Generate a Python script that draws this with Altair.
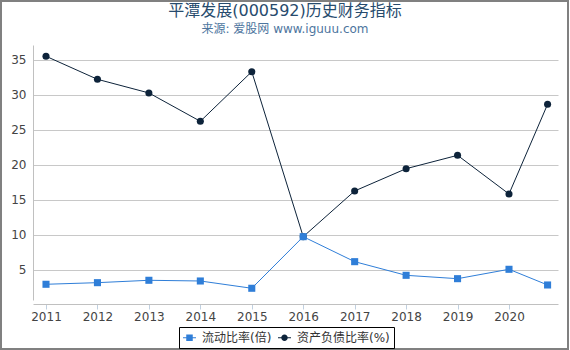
import altair as alt
import pandas as pd

# ---- data ----
periods = [2011, 2012, 2013, 2014, 2015, 2016, 2017, 2018, 2019, 2020, 2020.75]
tick_years = [2011, 2012, 2013, 2014, 2015, 2016, 2017, 2018, 2019, 2020]
current_ratio = [2.96, 3.19, 3.53, 3.43, 2.39, 9.76, 6.19, 4.24, 3.76, 5.10, 2.86]
debt_ratio = [35.53, 32.24, 30.29, 26.24, 33.33, 9.76, 16.29, 19.47, 21.38, 15.86, 28.67]
y_ticks = [5, 10, 15, 20, 25, 30, 35]

series_names = ["流动比率(倍)", "资产负债比率(%)"]
series_colors = ["#2f7ed8", "#0d233a"]
series_markers = ["square", "circle"]
legend_paths = [
    "M-1,-0.08H1V0.08H-1Z M-0.5,-0.5H0.5V0.5H-0.5Z",
    "M-1,-0.08H1V0.08H-1Z M0.5,0A0.5,0.5 0 1,1 -0.5,0A0.5,0.5 0 1,1 0.5,0Z",
]

rows = []
for name, vals in zip(series_names, [current_ratio, debt_ratio]):
    for p, v in zip(periods, vals):
        rows.append({"period": p, "value": v, "series": name})
df = pd.DataFrame(rows)

FONT = "DejaVu Sans, Noto Sans CJK SC, sans-serif"

x_enc = alt.X(
    "period:Q",
    scale=alt.Scale(domain=[2010.7473, 2020.9525], nice=False, zero=False),
    axis=alt.Axis(
        values=tick_years, format="d", title=None, grid=False, offset=4,
        labelFontSize=12, labelColor="#444444", labelFont=FONT,
        tickColor="#C0D0E0", tickSize=5, labelPadding=2,
        domainColor="#C0C0C0", labelFlush=False,
    ),
)
y_enc = alt.Y(
    "value:Q",
    scale=alt.Scale(domain=[0.714, 37.14], nice=False, zero=False),
    axis=alt.Axis(
        values=y_ticks, title=None, grid=True, gridColor="#C8C8C8",
        ticks=False, labelPadding=7, labelFontSize=12, labelColor="#444444",
        labelFont=FONT, domainColor="#C0C0C0",
    ),
)

base = alt.Chart(df)
layers = []
# draw navy series first, blue on top
for name, color, marker in reversed(list(zip(series_names, series_colors, series_markers))):
    sub = base.transform_filter(alt.datum.series == name)
    layers.append(sub.mark_line(color=color, strokeWidth=1).encode(x=x_enc, y=y_enc))
    layers.append(
        sub.mark_point(filled=True, shape=marker, size=50, color=color, opacity=1)
        .encode(x=x_enc, y=y_enc)
    )

legend_layer = base.transform_filter("false").mark_point(filled=True, opacity=1).encode(
    x=x_enc,
    y=y_enc,
    color=alt.Color(
        "series:N",
        scale=alt.Scale(domain=series_names, range=series_colors),
        legend=alt.Legend(
            title=None, orient="none", legendX=146, legendY=282,
            direction="horizontal", columns=2,
            strokeColor="#000000", padding=4,
            labelFont=FONT, labelFontSize=12, labelColor="#333333",
            symbolSize=169, symbolStrokeWidth=0, symbolOpacity=1,
            labelOffset=6, columnPadding=6,
        ),
    ),
    shape=alt.Shape(
        "series:N",
        scale=alt.Scale(domain=series_names, range=legend_paths),
    ),
)

frame = alt.Chart(pd.DataFrame({"k": [0]})).mark_rect(
    fill="transparent", stroke="#808080", strokeWidth=2
).encode(
    x=alt.value(-32), x2=alt.value(535), y=alt.value(-44), y2=alt.value(304)
)

chart = alt.layer(*layers, legend_layer, frame).properties(
    width=525,
    height=255,
    background="white",
    autosize=alt.AutoSizeParams(type="none"),
    padding={"left": 33, "top": 45, "right": 12, "bottom": 50},
    title=alt.TitleParams(
        text="平潭发展(000592)历史财务指标",
        subtitle="来源: 爱股网 www.iguuu.com",
        anchor="middle", frame="group", dx=-10.5, offset=0, dy=35,
        font=FONT, fontSize=16, fontWeight="normal", color="#274b6d",
        subtitleFont=FONT, subtitleFontSize=12, subtitleColor="#4d759e",
        subtitlePadding=5,
    ),
).configure_view(stroke=None).configure_legend(strokeWidth=1)

chart.save("out.html", embed_options={"renderer": "svg", "actions": False})
